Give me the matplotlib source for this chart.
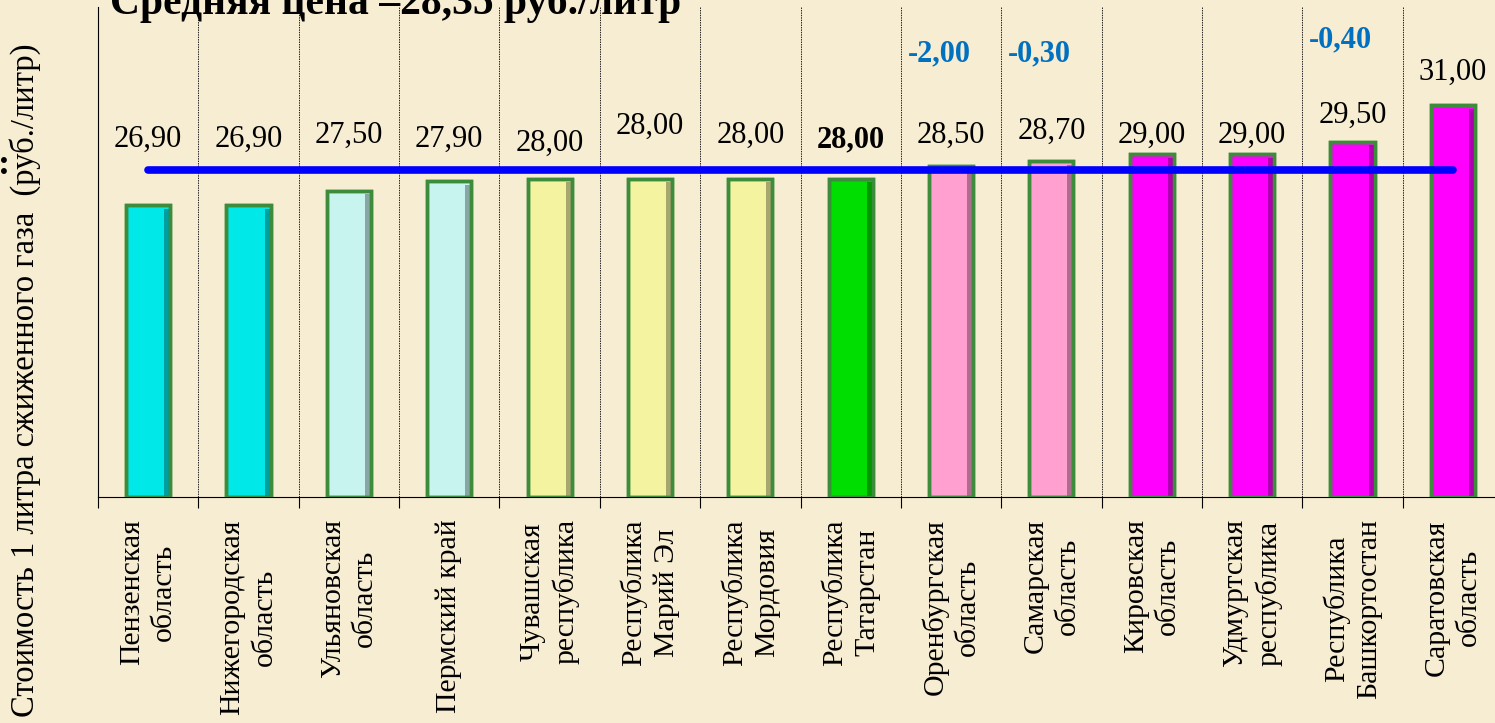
import numpy as np
import matplotlib
matplotlib.use("Agg")
import matplotlib.pyplot as plt
import matplotlib.colors as mcolors
from matplotlib.ticker import FixedLocator

plt.rcParams['font.family'] = ['Liberation Serif', 'DejaVu Serif']

regions = ["Пензенская\nобласть", "Нижегородская\nобласть", "Ульяновская\nобласть",
           "Пермский край", "Чувашская\nреспублика", "Республика\nМарий Эл",
           "Республика\nМордовия", "Республика\nТатарстан", "Оренбургская\nобласть",
           "Самарская\nобласть", "Кировская\nобласть", "Удмуртская\nреспублика",
           "Республика\nБашкортостан", "Саратовская\nобласть"]
prices = [26.90, 26.90, 27.50, 27.90, 28.00, 28.00, 28.00, 28.00,
          28.50, 28.70, 29.00, 29.00, 29.50, 31.00]
price_labels = ["26,90", "26,90", "27,50", "27,90", "28,00", "28,00", "28,00", "28,00",
                "28,50", "28,70", "29,00", "29,00", "29,50", "31,00"]
changes = {8: "-2,00", 9: "-0,30", 12: "-0,40"}
average = 28.35

# styling / layout
bar_colors = ["#00E8E8", "#00E8E8", "#C8F4F0", "#C8F4F0", "#F4F4A0", "#F4F4A0",
              "#F4F4A0", "#00DD00", "#FFA0D0", "#FFA0D0", "#FF00FF", "#FF00FF",
              "#FF00FF", "#FF00FF"]
label_y = [29.61, 29.61, 29.78, 29.61, 29.45, 30.14, 29.78, 29.57,
           29.78, 29.94, 29.78, 29.78, 30.59, 32.35]
change_y = {8: 33.08, 9: 33.08, 12: 33.65}
bg = "#F7EDD2"
bw = 0.44

fig = plt.figure(figsize=(14.95, 7.23), dpi=100, facecolor=bg)
ax = fig.add_axes([98/1495, 1-497/723, 1405/1495, 490/723])
ax.set_facecolor("none")

x = np.arange(len(prices))
heights = np.array(prices) - 15
ax.bar(x, heights, bottom=15, width=bw, color=bar_colors,
       edgecolor="#3C8C3C", linewidth=2.5, zorder=3)
# simple bevel: darker right side
dark = [tuple(np.array(mcolors.to_rgb(c)) * 0.55) for c in bar_colors]
ax.bar(x + bw/2 - 0.035, heights - 0.15, bottom=15, width=0.05, color=dark,
       linewidth=0, zorder=3.5, alpha=0.7)
ax.bar(x, heights, bottom=15, width=bw, color="none",
       edgecolor="#3C8C3C", linewidth=2.5, zorder=3.6)

ax.plot([x[0], x[-1]], [average, average], color="#0000FF", lw=5.5,
        solid_capstyle="round", zorder=4)

for i, (lab, ly) in enumerate(zip(price_labels, label_y)):
    ax.text(x[i], ly, lab, ha="center", va="center", fontsize=22,
            fontweight="bold" if i == 7 else "normal", zorder=5)
for i, lab in changes.items():
    ax.text(x[i] - 0.12, change_y[i], lab, ha="center", va="center", fontsize=22,
            fontweight="bold", color="#0070C0", zorder=5)

ax.set_xlim(-0.5, len(prices) - 0.5)
ax.set_ylim(15, 35)
ax.set_xticks(x)
ax.set_xticklabels(regions, rotation=90, fontsize=21.5, multialignment="center",
                   linespacing=1.3)
ax.tick_params(axis="x", which="major", length=0, pad=16)
ax.xaxis.set_minor_locator(FixedLocator(np.arange(-0.5, len(prices), 1)))
ax.tick_params(axis="x", which="minor", length=8, width=0.8, direction="out")
ax.grid(axis="x", which="minor", color="#222222", lw=0.7, ls=(0, (1.5, 1)), zorder=1)
ax.set_yticks([])
for s in ["top", "right"]:
    ax.spines[s].set_visible(False)
ax.spines["left"].set_linewidth(0.8)
ax.spines["bottom"].set_linewidth(0.8)

fig.text(25/1495, 1-380/723, "Стоимость 1 литра сжиженного газа  (руб./литр)",
         rotation=90, ha="center", va="center", fontsize=23.5)
fig.text(110/1495, 1-14/723, "Средняя цена –28,35 руб./литр", ha="left",
         va="baseline", fontsize=30, fontweight="bold")
fig.text(-2/1495, 1-165/723, ":", ha="left", va="center", fontsize=26, fontweight="bold")

fig.savefig("out.png", dpi=100, facecolor=bg)
